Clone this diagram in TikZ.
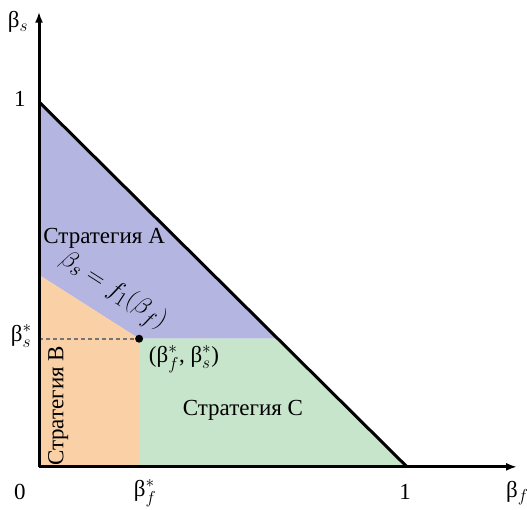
\documentclass[tikz,border=0pt]{standalone}
\usepackage{fontspec}
\setmainfont{Liberation Serif}
\usepackage{amsmath}
\usetikzlibrary{arrows.meta}
\definecolor{stratA}{RGB}{180,181,224}
\definecolor{stratB}{RGB}{250,208,166}
\definecolor{stratC}{RGB}{199,229,203}

\begin{document}
\begin{tikzpicture}[x=368pt,y=365pt,font=\fontsize{23}{27}\selectfont]
			\useasboundingbox (-0.106,-0.118) rectangle (1.326,1.279);
			\coordinate (o) at (0,0);
			\coordinate (s1) at (0,1);
			\coordinate (f1) at (1,0);
			\coordinate (k) at (0,0.526);
			\coordinate (p) at (0.272,0.351);
			\coordinate (q) at (0.649,0.351);
			\coordinate (fs) at (0.272,0);
			\coordinate (ss) at (0,0.351);
			\fill[stratA] (k) -- (s1) -- (q) -- (p) -- cycle;
			\fill[stratB] (o) -- (k) -- (p) -- (fs) -- cycle;
			\fill[stratC] (fs) -- (p) -- (q) -- (f1) -- cycle;
			\draw[black!55,dash pattern=on 4pt off 3pt,line width=1.8pt] (ss) -- (p);
			\draw[line width=3pt] (s1) -- (f1);
			\draw[line width=3pt,-{Latex[length=11pt,width=8pt]}] (o) -- (1.299,0);
			\draw[line width=3pt,-{Latex[length=11pt,width=8pt]}] (o) -- (0,1.247);
			\fill (p) circle (4pt);
			\node (ys) at (-0.057,1.219) {β$_s$};
			\node (yone) at (-0.052,1.008) {1};
			\node (ystar) at (-0.048,0.358) {β$_s^*$};
			\node (zero) at (-0.052,-0.068) {0};
			\node (xstar) at (0.288,-0.072) {β$_f^*$};
			\node (xone) at (0.995,-0.068) {1};
			\node (xs) at (1.3,-0.072) {β$_f$};
			\node (sa) at (0.177,0.627) {Стратегия A};
			\node[rotate=90] (sb) at (0.052,0.167) {Стратегия B};
			\node (sc) at (0.554,0.156) {Стратегия C};
			\node (pt) at (0.394,0.296) {(β$_f^*$, β$_s^*$)};
			\node[rotate=-32.6,font=\fontsize{28}{32}\selectfont] (fn) at (0.2,0.481) {$\beta_s = f_1(\beta_f)$};
		\end{tikzpicture}
\end{document}
